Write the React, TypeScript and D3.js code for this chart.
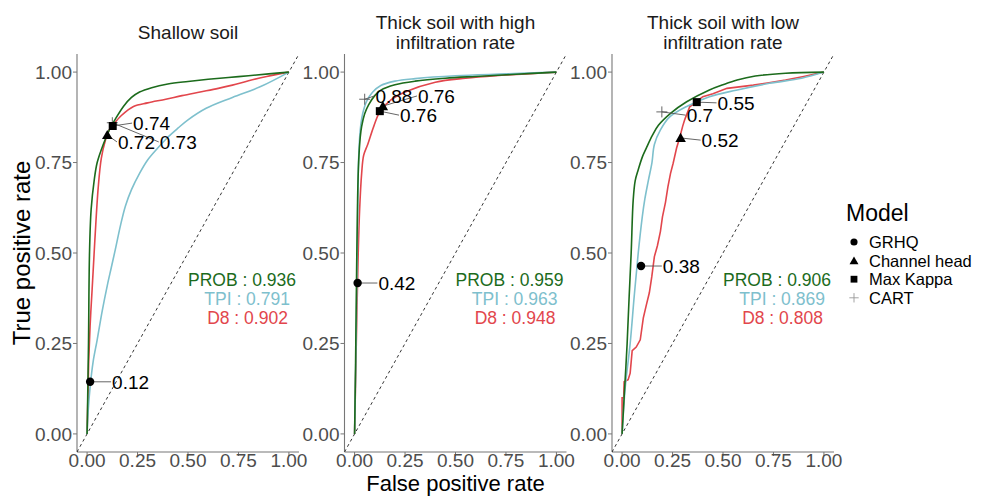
import React from 'react';
import * as d3 from 'd3';

// page size, same as the reference picture
const W = 990;
const H = 496;
const FONT = '"Liberation Sans", Arial, sans-serif';

const panelTitles = [
  ['Shallow soil'],
  ['Thick soil with high', 'infiltration rate'],
  ['Thick soil with low', 'infiltration rate'],
];
const ticks = [0, 0.25, 0.5, 0.75, 1];
const tickLabels = ['0.00', '0.25', '0.50', '0.75', '1.00'];

const methods = ['PROB', 'TPI', 'D8'];
const methodColors = ['#1c6b1c', '#7ec0cd', '#e2464c'];
const aucValues = [
  [0.936, 0.791, 0.902],
  [0.959, 0.963, 0.948],
  [0.906, 0.869, 0.808],
];

const modelNames = ['GRHQ', 'Channel head', 'Max Kappa', 'CART'];

// ROC curves, [fpr, tpr]
const shallowProb = [
  [0, 0], [0.003, 0.1], [0.007, 0.25], [0.012, 0.5], [0.02, 0.62], [0.035, 0.7], [0.05, 0.75],
  [0.08, 0.8], [0.11, 0.84], [0.14, 0.87], [0.18, 0.905], [0.22, 0.93], [0.26, 0.945],
  [0.32, 0.957], [0.4, 0.967], [0.5, 0.974], [0.6, 0.98], [0.7, 0.985], [0.8, 0.99], [0.9, 0.995], [1, 1],
];
const shallowTpi = [
  [0, 0], [0.005, 0.06], [0.015, 0.13], [0.03, 0.2], [0.05, 0.26], [0.075, 0.34], [0.1, 0.41],
  [0.12, 0.46], [0.14, 0.51], [0.165, 0.575], [0.19, 0.63], [0.22, 0.675], [0.26, 0.72],
  [0.3, 0.757], [0.35, 0.79], [0.4, 0.82], [0.45, 0.845], [0.5, 0.868], [0.59, 0.9],
  [0.72, 0.93], [0.86, 0.96], [1, 1],
];
const shallowD8 = [
  [0, 0], [0.004, 0.1], [0.008, 0.2], [0.015, 0.3], [0.025, 0.4], [0.03, 0.45], [0.04, 0.55],
  [0.055, 0.68], [0.07, 0.76], [0.09, 0.81], [0.11, 0.84], [0.13, 0.855], [0.17, 0.88],
  [0.23, 0.905], [0.3, 0.915], [0.39, 0.925], [0.47, 0.935], [0.56, 0.945], [0.65, 0.955],
  [0.72, 0.964], [0.8, 0.976], [0.89, 0.988], [1, 1],
];

const highProb = [
  [0, 0], [0.005, 0.2], [0.01, 0.45], [0.015, 0.65], [0.02, 0.75], [0.028, 0.82], [0.035, 0.85],
  [0.05, 0.885], [0.07, 0.91], [0.1, 0.935], [0.13, 0.95], [0.2, 0.965], [0.3, 0.975],
  [0.45, 0.983], [0.6, 0.988], [0.8, 0.994], [1, 1],
];
const highTpi = [
  [0, 0], [0.006, 0.2], [0.012, 0.45], [0.016, 0.65], [0.02, 0.76], [0.028, 0.84], [0.04, 0.885],
  [0.06, 0.92], [0.09, 0.945], [0.13, 0.963], [0.2, 0.975], [0.3, 0.982], [0.5, 0.99],
  [0.75, 0.995], [1, 1],
];
const highD8 = [
  [0, 0], [0.005, 0.15], [0.012, 0.35], [0.018, 0.5], [0.025, 0.62], [0.035, 0.72], [0.045, 0.77],
  [0.065, 0.8], [0.095, 0.85], [0.125, 0.89], [0.18, 0.923], [0.25, 0.945], [0.4, 0.972],
  [0.55, 0.983], [0.7, 0.99], [0.85, 0.995], [1, 1],
];

const lowProb = [
  [0, 0], [0.01, 0.1], [0.025, 0.25], [0.035, 0.38], [0.045, 0.5], [0.055, 0.646], [0.065, 0.7],
  [0.08, 0.73], [0.1, 0.765], [0.12, 0.79], [0.15, 0.825], [0.18, 0.853], [0.24, 0.886],
  [0.32, 0.918], [0.43, 0.95], [0.5, 0.965], [0.57, 0.978], [0.66, 0.989], [0.81, 0.997], [1, 1],
];
const lowTpi = [
  [0, 0], [0.015, 0.125], [0.04, 0.25], [0.06, 0.38], [0.08, 0.5], [0.1, 0.6], [0.113, 0.65],
  [0.13, 0.7], [0.148, 0.75], [0.16, 0.8], [0.19, 0.84], [0.236, 0.876], [0.32, 0.905],
  [0.433, 0.932], [0.565, 0.95], [0.73, 0.969], [0.89, 0.983], [1, 1],
];
const lowD8 = [
  [0, 0], [0, 0.1], [0.008, 0.1], [0.01, 0.144], [0.03, 0.15], [0.04, 0.168], [0.05, 0.23],
  [0.07, 0.24], [0.09, 0.26], [0.105, 0.32], [0.12, 0.356], [0.135, 0.39], [0.147, 0.434],
  [0.16, 0.49], [0.175, 0.52], [0.19, 0.56], [0.2, 0.6], [0.215, 0.64], [0.227, 0.683],
  [0.24, 0.72], [0.253, 0.748], [0.27, 0.79], [0.285, 0.818], [0.3, 0.85], [0.31, 0.868],
  [0.335, 0.904], [0.4, 0.932], [0.45, 0.94], [0.52, 0.955], [0.65, 0.964], [0.72, 0.97],
  [0.81, 0.978], [0.9, 0.988], [1, 1],
];

const curves = [
  [shallowProb, shallowTpi, shallowD8],
  [highProb, highTpi, highD8],
  [lowProb, lowTpi, lowD8],
];
// the low infiltration D8 curve is a stair-like line, the others are smooth
const jagged = [
  [false, false, false],
  [false, false, false],
  [false, false, true],
];

// thresholds marked on the curves: model index, fpr, tpr, label, label fpr, label tpr
const shallowPoints = [
  [0, 0.015, 0.144, '0.12', 0.124, 0.144],
  [1, 0.1, 0.826, '0.72', 0.153, 0.807],
  [3, 0.125, 0.86, '0.73', 0.36, 0.807],
  [2, 0.127, 0.851, '0.74', 0.228, 0.859],
];
const highPoints = [
  [0, 0.015, 0.417, '0.42', 0.118, 0.417],
  [3, 0.05, 0.925, '0.88', 0.103, 0.934],
  [1, 0.14, 0.906, '0.76', 0.314, 0.934],
  [2, 0.125, 0.892, '0.76', 0.225, 0.881],
];
const lowPoints = [
  [0, 0.094, 0.464, '0.38', 0.202, 0.464],
  [1, 0.29, 0.818, '0.52', 0.394, 0.812],
  [3, 0.197, 0.89, '0.7', 0.32, 0.881],
  [2, 0.37, 0.917, '0.55', 0.473, 0.915],
];
const points = [shallowPoints, highPoints, lowPoints];

// where the AUC text sits (right edge fpr, centre tpr)
const aucX = [1.035, 1.005, 0.995];
const aucY = [0.425, 0.375, 0.32];

const panelLeft = 77;
const panelW = 222;
const panelStep = 267.5;
const panelTop = 54;
const panelBottom = 452;

function Marker({ type, x, y, legend }: { type: number; x: number; y: number; legend?: boolean }) {
  const k = legend ? 0.85 : 1;
  if (type === 0) return <circle cx={x} cy={y} r={4.2 * k} fill="#000" />;
  if (type === 1)
    return <path transform={`translate(${x},${y + 1})`} d={d3.symbol(d3.symbolTriangle, 48 * k * k)()!} fill="#000" />;
  if (type === 2)
    return <path transform={`translate(${x},${y})`} d={d3.symbol(d3.symbolSquare, 64 * k * k)()!} fill="#000" />;
  const s = 5.5 * k;
  return (
    <g stroke={legend ? '#999' : '#555'} strokeWidth={0.9}>
      <line x1={x - s} x2={x + s} y1={y} y2={y} />
      <line x1={x} x2={x} y1={y - s} y2={y + s} />
    </g>
  );
}

function Panel({ i }: { i: number }) {
  const left = panelLeft + i * panelStep;
  const x = d3.scaleLinear().domain([-0.05, 1.05]).range([left, left + panelW]);
  const y = d3.scaleLinear().domain([-0.05, 1.05]).range([panelBottom, panelTop]);
  const smooth = d3
    .line<number[]>()
    .x((d) => x(d[0]))
    .y((d) => y(d[1]))
    .curve(d3.curveCatmullRom.alpha(0.5));
  const straight = d3
    .line<number[]>()
    .x((d) => x(d[0]))
    .y((d) => y(d[1]));
  const clipId = `clip${i}`;
  const order = [2, 1, 0];
  return (
    <g>
      <defs>
        <clipPath id={clipId}>
          <rect x={left} y={panelTop} width={panelW} height={panelBottom - panelTop} />
        </clipPath>
      </defs>
      {panelTitles[i].map((t, j) => (
        <text
          key={j}
          x={left + panelW / 2}
          y={panelTitles[i].length === 1 ? 39 : 29 + j * 20}
          textAnchor="middle"
          fontSize={19}
          fill="#1a1a1a"
        >
          {t}
        </text>
      ))}
      {/* axes */}
      <line x1={left} x2={left} y1={panelTop} y2={panelBottom} stroke="#777" strokeWidth={1.1} />
      <line x1={left} x2={left + panelW} y1={panelBottom} y2={panelBottom} stroke="#777" strokeWidth={1.1} />
      {ticks.map((t, j) => (
        <g key={j}>
          <line x1={left - 4} x2={left} y1={y(t)} y2={y(t)} stroke="#777" />
          <text x={left - 5} y={y(t)} dy="0.35em" textAnchor="end" fontSize={19} fill="#4d4d4d">
            {tickLabels[j]}
          </text>
          <line x1={x(t)} x2={x(t)} y1={panelBottom} y2={panelBottom + 4} stroke="#777" />
          <text x={x(t)} y={467} textAnchor="middle" fontSize={19} fill="#4d4d4d">
            {tickLabels[j]}
          </text>
        </g>
      ))}
      <g clipPath={`url(#${clipId})`}>
        <line
          x1={x(-0.05)}
          y1={y(-0.05)}
          x2={x(1.05)}
          y2={y(1.05)}
          stroke="#000"
          strokeWidth={0.8}
          strokeDasharray="3,3"
        />
        {order.map((m) => (
          <path
            key={m}
            d={(jagged[i][m] ? straight : smooth)(curves[i][m] as number[][])!}
            fill="none"
            stroke={methodColors[m]}
            strokeWidth={1.6}
          />
        ))}
      </g>
      {points[i].map((p, j) => {
        const [, fx, fy, , lx, ly] = p as [number, number, number, string, number, number];
        return (
          <line key={j} x1={x(fx)} y1={y(fy)} x2={x(lx) - 1} y2={y(ly)} stroke="#555" strokeWidth={0.9} />
        );
      })}
      {points[i].map((p, j) => (
        <Marker key={j} type={p[0] as number} x={x(p[1] as number)} y={y(p[2] as number)} />
      ))}
      {points[i].map((p, j) => (
        <text key={j} x={x(p[4] as number)} y={y(p[5] as number)} dy="0.36em" fontSize={19} fill="#000">
          {p[3] as string}
        </text>
      ))}
      {methods.map((m, j) => (
        <text key={m} x={x(aucX[j])} y={y(aucY[j])} dy="0.36em" textAnchor="end" fontSize={17.5} fill={methodColors[j]}>
          {`${m} : ${aucValues[i][j].toFixed(3)}`}
        </text>
      ))}
    </g>
  );
}

export default function App() {
  return (
    <div style={{ position: 'absolute', left: 0, top: 0 }}>
      <svg width={W} height={H} fontFamily={FONT} style={{ display: 'block', background: '#fff' }}>
        {[0, 1, 2].map((i) => (
          <Panel key={i} i={i} />
        ))}
        <text x={455.5} y={491} textAnchor="middle" fontSize={22} fill="#000">
          False positive rate
        </text>
        <text transform="translate(30,253) rotate(-90)" textAnchor="middle" fontSize={24} fill="#000">
          True positive rate
        </text>
        <text x={846} y={221} fontSize={23} fill="#000">
          Model
        </text>
        {modelNames.map((n, j) => (
          <g key={n}>
            <Marker type={j} x={854} y={242 + j * 18.6} legend />
            <text x={869} y={242 + j * 18.6} dy="0.36em" fontSize={16.5} fill="#000">
              {n}
            </text>
          </g>
        ))}
      </svg>
    </div>
  );
}
